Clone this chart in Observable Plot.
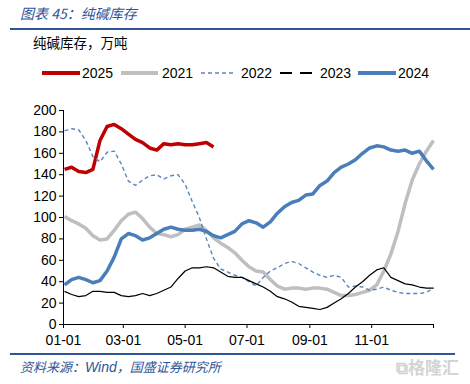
<!DOCTYPE html>
<html><head><meta charset="utf-8">
<script src="https://cdn.jsdelivr.net/npm/d3@7"></script>
<script src="https://cdn.jsdelivr.net/npm/@observablehq/plot@0.6"></script>
<style>
html,body{margin:0;padding:0;background:#fff;}
body{width:470px;height:384px;overflow:hidden;position:relative;font-family:"Liberation Sans",Arial,sans-serif;}
.abs{position:absolute;white-space:nowrap;}
#title{left:20px;top:3px;font:italic 14px "Noto Sans CJK SC";color:#2F5597;line-height:20px;}
#tline{left:10px;top:28px;width:460px;height:2px;background:#2F5597;}
#sub{left:33px;top:32px;font:13.5px "Noto Sans CJK SC";color:#000;line-height:20px;}
#chart{left:0;top:95px;}
#fline{left:10px;top:353px;width:445px;height:1.5px;background:#2F5597;}
#foot{left:20px;top:357px;font:italic 13px "Noto Sans CJK SC";color:#2F5597;line-height:20px;}
#foot .w{font-family:"Liberation Sans",Arial,sans-serif;font-size:14px;}
#wm{left:396px;top:356px;font:bold 17px "Noto Sans CJK SC";color:#d4d4d4;line-height:22px;}
.leg{position:absolute;top:64px;font-size:14px;line-height:18px;color:#000;}
</style></head><body>
<div id="title" class="abs">图表 45：纯碱库存</div>
<div id="tline" class="abs"></div>
<div id="sub" class="abs">纯碱库存，万吨</div>
<div id="legend"></div>
<div id="chart" class="abs"></div>
<div id="fline" class="abs"></div>
<div id="foot" class="abs">资料来源：<span class="w">Wind</span>，国盛证券研究所</div>
<div id="wm" class="abs">⧉格隆汇</div>
<script>
// Weekly observations (万吨), first week ending ~Jan 2
const years = ["2025", "2021", "2022", "2023", "2024"];
const v2025 = [145,147,143,142,145,172,185,187,183,178,173,170,165,163,169,168,169,168,168,169,170,166];
const v2021 = [101,97,94,90,83,79,80,88,97,103,105,99,91,85,84,82,84,89,91,93,88,81,76,72,67,60,54,50,49,42,36,33,34,34,33,34,34,33,30,27,27,28,30,32,37,50,66,87,113,135,150,162,172];
const v2022 = [181,183,182,172,157,152,161,162,150,134,130,135,139,140,136,139,140,131,115,100,80,62,52,49,46,44,40,36,44,50,53,57,59,57,53,49,46,44,46,44,35,36,35,32,33,35,32,30,29,29,29,30,34];
const v2023 = [31,28,26,27,31,31,30,30,27,26,27,29,27,29,32,35,43,50,53,53,54,53,49,45,44,44,41,38,35,31,26,24,21,17,16,15,14,16,20,24,29,35,40,46,51,53,44,41,38,37,35,34,34];
const v2024 = [37,42,44,42,39,41,50,63,80,85,83,79,81,85,89,91,89,88,88,89,87,83,81,84,87,94,97,95,91,96,104,110,114,116,121,122,130,134,142,147,150,154,160,165,167,166,163,162,163,160,162,153,145];
const xTickLabels = ["01-01","03-01","05-01","07-01","09-01","11-01",""];
const yTicks = [0,20,40,60,80,100,120,140,160,180,200];

const colors = {"2025":"#C00000","2021":"#BFBFBF","2022":"#5A85BE","2023":"#000000","2024":"#4A7EBB"};
const widths = {"2025":3.5,"2021":3.5,"2022":1.4,"2023":1.2,"2024":3.5};
const dashes = {"2025":null,"2021":null,"2022":"4,3","2023":null,"2024":null};
const values = {"2025":v2025,"2021":v2021,"2022":v2022,"2023":v2023,"2024":v2024};

const DAY = 864e5;
const base = Date.UTC(2021,0,1);
const end = Date.UTC(2022,0,1);
const tickDates = ["2021-01-01","2021-03-01","2021-05-01","2021-07-01","2021-09-01","2021-11-01","2022-01-01"].map(s => new Date(s+"T00:00:00Z"));
const labelMap = new Map(tickDates.map((d,i)=>[+d, xTickLabels[i]]));

function rows(y){ return values[y].map((v,i)=>({date:new Date(base+(7*i+1)*DAY), value:v})); }

const marks = [
  Plot.ruleY([0], {stroke:"#000", strokeWidth:1}),
  Plot.ruleX([new Date(base)], {y1:0, y2:200, stroke:"#000", strokeWidth:1})
];
for (const y of years) {
  marks.push(Plot.line(rows(y), {x:"date", y:"value", stroke:colors[y], strokeWidth:widths[y],
    strokeDasharray:dashes[y] || undefined, strokeLinejoin:"round", strokeLinecap:"butt"}));
}

const plot = Plot.plot({
  width:470, height:259,
  marginTop:15, marginBottom:30, marginLeft:63, marginRight:37,
  style:{fontFamily:"'Liberation Sans', Arial, sans-serif", fontSize:"14px", color:"#000", background:"#fff", overflow:"visible"},
  x:{type:"utc", domain:[new Date(base), new Date(end)], ticks:tickDates, tickFormat:d=>labelMap.get(+d) ?? "", tickSize:4, tickPadding:7, label:null},
  y:{domain:[0,200], ticks:yTicks, tickSize:4, tickPadding:3, label:null},
  marks
});
document.getElementById("chart").appendChild(plot);

// legend
const legPos = {"2025":[42,38,82],"2021":[121,37,162],"2022":[201,35,241],"2023":[280,32,320],"2024":[358,38,398]};
const leg = document.getElementById("legend");
for (const y of years) {
  const [x, w, tx] = legPos[y];
  const sw = document.createElementNS("http://www.w3.org/2000/svg","svg");
  sw.setAttribute("width", w); sw.setAttribute("height", 10);
  sw.style.position="absolute"; sw.style.left=x+"px"; sw.style.top="68px";
  const ln = document.createElementNS("http://www.w3.org/2000/svg","line");
  ln.setAttribute("x1",0); ln.setAttribute("x2",w); ln.setAttribute("y1",5); ln.setAttribute("y2",5);
  ln.setAttribute("stroke", colors[y]);
  ln.setAttribute("stroke-width", y==="2023" ? 2 : (widths[y] > 2 ? 4 : 1.6));
  if (y==="2022") ln.setAttribute("stroke-dasharray","4,3");
  if (y==="2023") ln.setAttribute("stroke-dasharray","12,8");
  sw.appendChild(ln);
  leg.appendChild(sw);
  const t = document.createElement("div");
  t.className="leg"; t.style.left=tx+"px"; t.textContent=y;
  leg.appendChild(t);
}
</script>
</body></html>
